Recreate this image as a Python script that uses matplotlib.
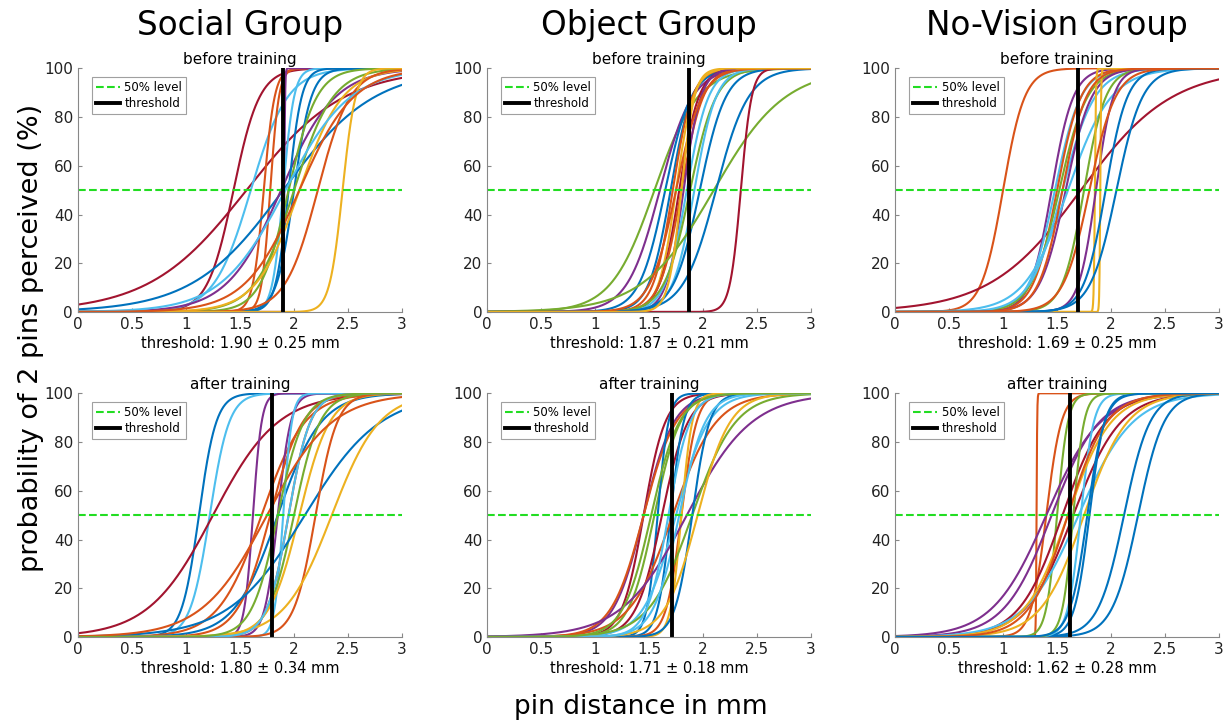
import numpy as np
import matplotlib.pyplot as plt

# MATLAB default line colours
C = {'b': '#0072BD', 'o': '#D95319', 'y': '#EDB120', 'p': '#7E2F8E',
     'g': '#77AC30', 'c': '#4DBEEE', 'r': '#A2142F'}

groups = ['Social Group', 'Object Group', 'No-Vision Group']
sessions = ['before training', 'after training']
thr_mean = [[1.90, 1.87, 1.69], [1.80, 1.71, 1.62]]
thr_sd = [[0.25, 0.21, 0.25], [0.34, 0.18, 0.28]]

# fitted psychometric curves per panel: 50% point (mm), width (mm), colour
social_before_mu = [1.44, 1.56, 1.60, 1.72, 1.78, 1.90, 1.88, 1.91, 1.90, 1.95, 2.00, 1.95, 2.00, 2.05, 2.22, 2.45, 1.92, 2.05]
social_before_s = [0.12, 0.45, 0.17, 0.05, 0.04, 0.42, 0.25, 0.004, 0.05, 0.06, 0.08, 0.13, 0.18, 0.20, 0.15, 0.06, 0.30, 0.25]
social_before_c = ['r', 'r', 'c', 'o', 'o', 'b', 'p', 'p', 'c', 'b', 'b', 'g', 'g', 'y', 'o', 'y', 'c', 'o']

object_before_mu = [1.55, 1.60, 1.65, 1.70, 1.72, 1.75, 1.78, 1.80, 1.82, 1.85, 1.88, 1.92, 1.97, 2.10, 2.12, 2.35, 1.75, 1.80]
object_before_s = [0.20, 0.15, 0.12, 0.10, 0.09, 0.08, 0.09, 0.10, 0.08, 0.10, 0.12, 0.10, 0.12, 0.33, 0.15, 0.05, 0.12, 0.06]
object_before_c = ['g', 'p', 'b', 'b', 'o', 'y', 'r', 'o', 'p', 'c', 'g', 'c', 'b', 'g', 'b', 'r', 'o', 'y']

novis_before_mu = [1.00, 1.72, 1.45, 1.48, 1.50, 1.52, 1.55, 1.58, 1.60, 1.75, 1.85, 1.86, 1.90, 1.95, 2.05, 1.55, 1.80]
novis_before_s = [0.10, 0.42, 0.10, 0.12, 0.11, 0.13, 0.15, 0.12, 0.20, 0.10, 0.005, 0.08, 0.004, 0.10, 0.12, 0.11, 0.12]
novis_before_c = ['o', 'r', 'p', 'c', 'o', 'g', 'c', 'p', 'c', 'g', 'y', 'p', 'y', 'b', 'b', 'o', 'o']

social_after_mu = [1.12, 1.22, 1.25, 1.62, 1.70, 1.85, 1.85, 1.78, 1.90, 1.95, 2.00, 2.05, 2.10, 2.20, 2.35, 1.95, 1.75, 1.85]
social_after_s = [0.08, 0.09, 0.30, 0.04, 0.20, 0.06, 0.20, 0.15, 0.04, 0.10, 0.12, 0.14, 0.35, 0.10, 0.22, 0.10, 0.30, 0.12]
social_after_c = ['b', 'c', 'r', 'p', 'o', 'p', 'b', 'o', 'c', 'o', 'g', 'y', 'b', 'o', 'y', 'c', 'o', 'g']

object_after_mu = [1.45, 1.45, 1.45, 1.55, 1.58, 1.62, 1.70, 1.72, 1.75, 1.80, 1.80, 1.85, 1.90, 1.90, 1.95, 1.68, 1.78, 1.52]
object_after_s = [0.10, 0.14, 0.15, 0.12, 0.05, 0.12, 0.06, 0.20, 0.15, 0.07, 0.05, 0.30, 0.20, 0.08, 0.15, 0.10, 0.12, 0.13]
object_after_c = ['r', 'p', 'o', 'g', 'b', 'r', 'b', 'o', 'c', 'o', 'y', 'p', 'g', 'b', 'y', 'c', 'c', 'g']

novis_after_mu = [1.31, 1.40, 1.50, 1.40, 1.45, 1.55, 1.65, 1.70, 1.75, 2.12, 2.25, 1.80, 1.72, 1.65, 1.60, 1.60, 1.78]
novis_after_s = [0.003, 0.07, 0.05, 0.25, 0.22, 0.20, 0.22, 0.25, 0.20, 0.12, 0.12, 0.07, 0.06, 0.05, 0.20, 0.18, 0.08]
novis_after_c = ['o', 'o', 'g', 'p', 'p', 'r', 'r', 'c', 'y', 'b', 'b', 'b', 'c', 'g', 'y', 'o', 'b']

curves = [[(social_before_mu, social_before_s, social_before_c),
           (object_before_mu, object_before_s, object_before_c),
           (novis_before_mu, novis_before_s, novis_before_c)],
          [(social_after_mu, social_after_s, social_after_c),
           (object_after_mu, object_after_s, object_after_c),
           (novis_after_mu, novis_after_s, novis_after_c)]]

fig = plt.figure(figsize=(12.32, 7.23), dpi=100)
lefts = [0.0633, 0.3953, 0.7265]
width = 0.263
bottoms = [0.5685, 0.119]
height = 0.337
x = np.linspace(0, 3, 1500)

for row in range(2):
    for col in range(3):
        ax = fig.add_axes([lefts[col], bottoms[row], width, height])
        mu, s, cc = curves[row][col]
        for m, w, c in zip(mu, s, cc):
            p = 100 / (1 + np.exp(-(x - m) / w))
            ax.plot(x, p, color=C[c], lw=1.5)
        ax.plot([0, 3], [50, 50], '--', color='#22dd22', lw=1.5, label='50% level')
        ax.plot([thr_mean[row][col]] * 2, [0, 100], color='black', lw=2.8, label='threshold')
        ax.set_xlim(0, 3)
        ax.set_ylim(0, 100)
        ax.set_xticks(np.arange(0, 3.01, 0.5))
        ax.set_xticklabels(['0', '0.5', '1', '1.5', '2', '2.5', '3'])
        ax.set_yticks(np.arange(0, 101, 20))
        for sp in ['top', 'right']:
            ax.spines[sp].set_visible(False)
        for sp in ['left', 'bottom']:
            ax.spines[sp].set_color('#888888')
        ax.tick_params(direction='in', length=3, color='#888888', labelsize=11, labelcolor='#222222')
        ax.set_title(sessions[row], fontsize=11, pad=3)
        ax.set_xlabel('threshold: %.2f \u00b1 %.2f mm' % (thr_mean[row][col], thr_sd[row][col]),
                      fontsize=10.5, labelpad=3)
        h, l = ax.get_legend_handles_labels()
        leg = ax.legend(h[-2:], l[-2:], loc='upper left', fontsize=8.5, fancybox=False,
                        handlelength=2.0, borderpad=0.35, labelspacing=0.25, handletextpad=0.4,
                        bbox_to_anchor=(0.025, 0.99))
        leg.get_frame().set_edgecolor('#888888')
        leg.get_frame().set_linewidth(0.8)
        if row == 0:
            fig.text(lefts[col] + width / 2, 0.965, groups[col], ha='center', va='center', fontsize=23.5)

fig.text(0.025, 0.532, 'probability of 2 pins perceived (%)', rotation=90, ha='center', va='center', fontsize=19.5)
fig.text(0.52, 0.022, 'pin distance in mm', ha='center', va='center', fontsize=19)

fig.savefig('out.png', dpi=100)
